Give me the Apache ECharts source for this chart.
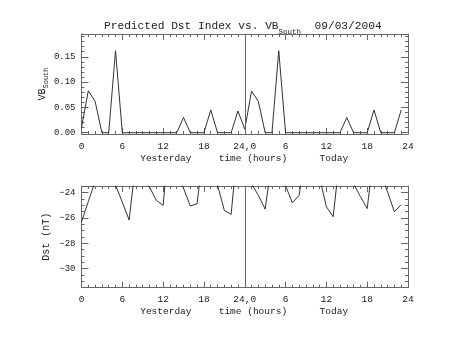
<!DOCTYPE html>
<html><head><meta charset="utf-8">
<script src="https://cdn.jsdelivr.net/npm/echarts@6/dist/echarts.min.js"></script>
<style>html,body{margin:0;padding:0;background:#fff}#c{width:453px;height:340px}</style>
</head><body><div id="c"></div>
<script>
// hours 0..47 (yesterday 0-23, today 24-47)
const hours = Array.from({length: 48}, (_, i) => i);
const vbSouth = [0.010,0.083,0.062,0,0,0.162,0,0,0,0,0,0,0,0,0,0.030,0,0,0,0.045,0,0,0,0.043,
                 0.007,0.082,0.062,0,0,0.162,0,0,0,0,0,0,0,0,0,0.030,0,0,0,0.045,0,0,0,0.045];
const dst = [-26.3,-24.7,-23.1,-23.0,-23.0,-23.4,-24.75,-26.15,-21.5,-23.0,-23.55,-24.6,-25.0,-19.0,-22.3,-23.65,-25.05,-24.87,-20.2,-23.0,-23.4,-25.4,-25.7,-20.1,
             -23.0,-23.3,-24.2,-25.3,-21.4,-23.0,-23.45,-24.8,-24.2,-20.5,-23.0,-22.8,-25.1,-25.9,-21.0,-23.0,-23.3,-24.3,-25.25,-20.8,-22.4,-23.95,-25.5,-24.95];
const xTickLabels = ['0','6','12','18','24,0','6','12','18','24'];
const xTicks = [0, 6, 12, 18, 24, 30, 36, 42, 48];
const xSubLabels = ['Yesterday','time (hours)','Today'];
const xSubPos = [12.4, 25.2, 37.1];
const vbTicks = [0, 0.05, 0.10, 0.15];
const dstTicks = [-30, -28, -26, -24];
const dividerHour = 24;

const FONT = 'Liberation Mono';
const FRAME = '#666';
const TXT = '#222';
const vbMin = -0.0025, vbMax = 0.195;
const dstMin = -31.5, dstMax = -23.47;

const xMinor = []; for (let v = 0; v <= 48; v += 1) xMinor.push(v);
const vbMinor = []; for (let v = 0; v <= 0.19 + 1e-9; v += 0.01) vbMinor.push(+v.toFixed(2));
const dstMinor = []; for (let v = -31.5; v <= -23.5 + 1e-9; v += 0.5) dstMinor.push(v);

function xAxes(gi) {
  const common = {type:'value', gridIndex: gi, min:0, max:48, splitLine:{show:false}};
  const major = (pos) => Object.assign({}, common, {position: pos,
      axisLine:{show:true, onZero:false, lineStyle:{color:FRAME}},
      axisTick:{show:true, inside:true, length:6, customValues: xTicks, lineStyle:{color:FRAME}},
      axisLabel: pos === 'bottom'
        ? {show:true, margin:7, color:TXT, fontFamily:FONT, fontSize:9.5, customValues: xTicks,
           formatter: v => xTickLabels[xTicks.indexOf(v)]}
        : {show:false}});
  const minor = (pos) => Object.assign({}, common, {position: pos, axisLine:{show:false, onZero:false},
      axisTick:{show:true, inside:true, length:3, customValues: xMinor, lineStyle:{color:FRAME}},
      axisLabel:{show:false}});
  return [
    major('bottom'), minor('bottom'), major('top'), minor('top'),
    Object.assign({}, common, {position:'bottom', offset:12,
      axisLine:{show:false, onZero:false}, axisTick:{show:false},
      axisLabel:{show:true, margin:7, color:TXT, fontFamily:FONT, fontSize:9.5,
        customValues: xSubPos, formatter: v => xSubLabels[xSubPos.indexOf(v)]}})
  ];
}
function yAxes(gi, mn, mx, majors, minors, fmt, name, nameGap, rich) {
  const common = {type:'value', gridIndex: gi, min: mn, max: mx, splitLine:{show:false}};
  return [
    Object.assign({}, common, {position:'left',
      axisLine:{show:true, onZero:false, lineStyle:{color:FRAME}},
      axisTick:{show:true, inside:true, length:7, customValues: majors, lineStyle:{color:FRAME}},
      axisLabel:{show:true, margin:6, color:TXT, fontFamily:FONT, fontSize:9, customValues: majors, formatter: fmt},
      name: name, nameLocation:'middle', nameGap: nameGap, nameRotate: 90, nameMoveOverlap: false,
      nameTextStyle:{color:TXT, fontFamily:FONT, fontSize:10, rich: rich}}),
    Object.assign({}, common, {position:'left', axisLine:{show:false, onZero:false},
      axisTick:{show:true, inside:true, length:3, customValues: minors, lineStyle:{color:FRAME}},
      axisLabel:{show:false}}),
    Object.assign({}, common, {position:'right',
      axisLine:{show:true, onZero:false, lineStyle:{color:FRAME}},
      axisTick:{show:true, inside:true, length:7, customValues: majors, lineStyle:{color:FRAME}},
      axisLabel:{show:false}}),
    Object.assign({}, common, {position:'right', axisLine:{show:false, onZero:false},
      axisTick:{show:true, inside:true, length:3, customValues: minors, lineStyle:{color:FRAME}},
      axisLabel:{show:false}})
  ];
}

const chart = echarts.init(document.getElementById('c'), null, {renderer:'canvas'});
chart.setOption({
  animation:false,
  backgroundColor:'#fff',
  title:{left:99, top:11, text:'{a|Predicted Dst Index vs. VB}{s|South}{a|  09/03/2004}',
    textStyle:{fontWeight:'normal', rich:{
      a:{fontFamily:FONT, fontSize:11.2, color:TXT, fontWeight:'normal'},
      s:{fontFamily:FONT, fontSize:7.5, color:TXT, fontWeight:'normal', padding:[12,0,0,0]}}}},
  grid:[
    {left:81.5, right:45, top:34, height:100},
    {left:81.5, right:45, top:186, height:101.7}
  ],
  xAxis:[...xAxes(0), ...xAxes(1)],
  yAxis:[
    ...yAxes(0, vbMin, vbMax, vbTicks, vbMinor, v => v.toFixed(2), '{n|VB}{s|South}', 32,
      {n:{fontFamily:FONT, fontSize:10, color:TXT}, s:{fontFamily:FONT, fontSize:7, color:TXT, padding:[8,0,0,0]}}),
    ...yAxes(1, dstMin, dstMax, dstTicks, dstMinor, v => String(v).replace('-', '\u2212'), 'Dst (nT)', 30, undefined)
  ],
  series:[
    {type:'line', xAxisIndex:0, yAxisIndex:0, data: hours.map((h,i)=>[h, vbSouth[i]]),
      showSymbol:false, lineStyle:{color:'#333', width:1}, clip:true,
      markLine:{silent:true, symbol:'none', label:{show:false}, lineStyle:{color:FRAME, type:'solid', width:1},
        data:[{xAxis: dividerHour}]}},
    {type:'line', xAxisIndex:5, yAxisIndex:4, data: hours.map((h,i)=>[h, dst[i]]),
      showSymbol:false, lineStyle:{color:'#333', width:1}, clip:true,
      markLine:{silent:true, symbol:'none', label:{show:false}, lineStyle:{color:FRAME, type:'solid', width:1},
        data:[{xAxis: dividerHour}]}}
  ]
});
</script></body></html>
